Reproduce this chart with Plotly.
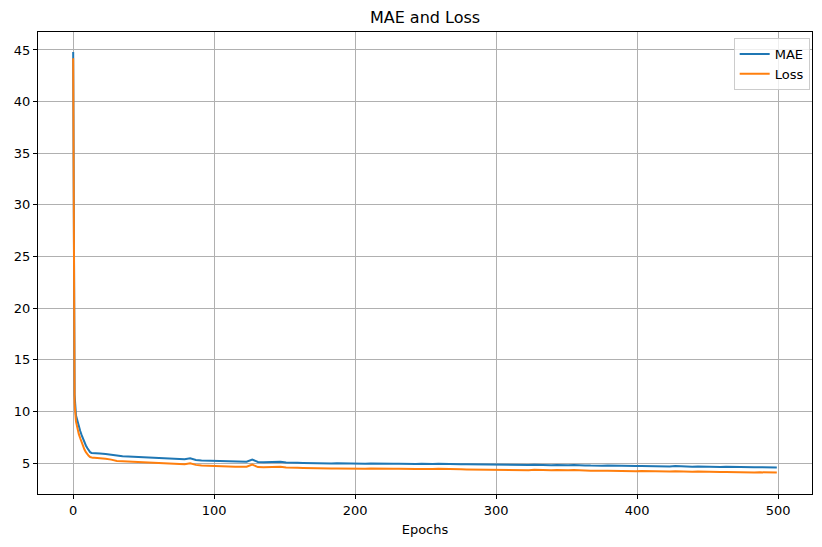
import plotly.graph_objects as go

epochs = [0, 1, 2, 3, 4, 5, 6, 7, 8, 9, 10, 11, 12, 13, 14,
          15, 19, 23, 27, 31, 35, 39, 43, 47, 51,
          55, 59, 63, 67, 71, 75, 79, 83, 87, 91,
          95, 99, 103, 107, 111, 115, 119, 123, 127, 131,
          135, 139, 143, 147, 151, 155, 159, 163, 167, 171,
          175, 179, 183, 187, 191, 195, 199, 203, 207, 211,
          215, 219, 223, 227, 231, 235, 239, 243, 247, 251,
          255, 259, 263, 267, 271, 275, 279, 283, 287, 291,
          295, 299, 303, 307, 311, 315, 319, 323, 327, 331,
          335, 339, 343, 347, 351, 355, 359, 363, 367, 371,
          375, 379, 383, 387, 391, 395, 399, 403, 407, 411,
          415, 419, 423, 427, 431, 435, 439, 443, 447, 451,
          455, 459, 463, 467, 471, 475, 479, 483, 487, 491,
          495, 499]

mae = [44.8, 11.6, 9.6, 9.0, 8.5, 8.1, 7.7, 7.3, 7.0, 6.7, 6.45, 6.25, 6.05, 5.98, 5.96,
       5.95, 5.93, 5.88, 5.80, 5.68, 5.66, 5.63, 5.60, 5.54, 5.55,
       5.50, 5.46, 5.47, 5.42, 5.41, 5.38, 5.37, 5.47, 5.30, 5.24,
       5.22, 5.21, 5.17, 5.18, 5.15, 5.14, 5.12, 5.13, 5.34, 5.10,
       5.08, 5.11, 5.09, 5.13, 5.05, 5.07, 5.02, 5.01, 4.99, 4.98,
       5.01, 4.99, 4.96, 4.97, 4.95, 4.96, 4.94, 4.95, 4.93, 4.96,
       4.94, 4.92, 4.95, 4.93, 4.94, 4.91, 4.93, 4.90, 4.92, 4.90,
       4.91, 4.94, 4.91, 4.89, 4.92, 4.88, 4.87, 4.86, 4.88, 4.85,
       4.84, 4.86, 4.83, 4.82, 4.85, 4.81, 4.82, 4.80, 4.83, 4.79,
       4.80, 4.78, 4.81, 4.77, 4.78, 4.82, 4.76, 4.77, 4.75, 4.78,
       4.74, 4.75, 4.73, 4.76, 4.72, 4.74, 4.71, 4.72, 4.70, 4.73,
       4.68, 4.69, 4.67, 4.70, 4.66, 4.67, 4.65, 4.67, 4.64, 4.63,
       4.65, 4.62, 4.63, 4.61, 4.63, 4.60, 4.61, 4.59, 4.60, 4.58,
       4.59, 4.57]

loss = [44.2, 10.8, 9.0, 8.3, 7.8, 7.4, 7.0, 6.6, 6.3, 6.05, 5.85, 5.7, 5.58, 5.52, 5.5,
        5.50, 5.47, 5.42, 5.33, 5.20, 5.17, 5.14, 5.11, 5.06, 5.07,
        5.02, 4.98, 4.99, 4.94, 4.93, 4.90, 4.88, 4.98, 4.82, 4.76,
        4.73, 4.72, 4.68, 4.69, 4.66, 4.65, 4.63, 4.64, 4.84, 4.61,
        4.59, 4.62, 4.60, 4.64, 4.56, 4.58, 4.53, 4.52, 4.50, 4.49,
        4.52, 4.50, 4.47, 4.48, 4.46, 4.47, 4.45, 4.46, 4.44, 4.47,
        4.45, 4.43, 4.46, 4.44, 4.45, 4.42, 4.44, 4.41, 4.43, 4.41,
        4.42, 4.45, 4.42, 4.40, 4.43, 4.39, 4.38, 4.37, 4.39, 4.36,
        4.35, 4.37, 4.34, 4.33, 4.36, 4.32, 4.33, 4.31, 4.34, 4.30,
        4.31, 4.29, 4.32, 4.28, 4.29, 4.33, 4.27, 4.28, 4.26, 4.29,
        4.25, 4.25, 4.23, 4.26, 4.22, 4.24, 4.21, 4.22, 4.20, 4.23,
        4.18, 4.19, 4.17, 4.20, 4.16, 4.17, 4.15, 4.17, 4.14, 4.13,
        4.15, 4.12, 4.13, 4.11, 4.13, 4.10, 4.11, 4.09, 4.10, 4.08,
        4.09, 4.07]

x_ticks = [0, 100, 200, 300, 400, 500]
y_ticks = [5, 10, 15, 20, 25, 30, 35, 40, 45]

font = "DejaVu Sans"

fig = go.Figure()
fig.add_trace(go.Scatter(x=epochs, y=mae, mode="lines", name="MAE",
                         line=dict(color="#1f77b4", width=2)))
fig.add_trace(go.Scatter(x=epochs, y=loss, mode="lines", name="Loss",
                         line=dict(color="#ff7f0e", width=2)))

axis_common = dict(
    showline=True, linecolor="black", linewidth=1, mirror=True,
    ticks="outside", ticklen=4, tickcolor="black", tickwidth=1,
    showgrid=True, gridcolor="#b0b0b0", gridwidth=1, zeroline=False,
    tickfont=dict(family=font, size=13, color="black"),
    automargin=False,
)

# the page body adds an 8px offset, so the figure is sized to fit the window
W, H = 814, 539

fig.update_layout(
    width=W, height=H,
    paper_bgcolor="white", plot_bgcolor="white",
    margin=dict(l=30, r=10, t=24, b=53),
    title=dict(text="MAE and Loss", x=0.5, xanchor="center", xref="paper",
               yref="container", y=1 - 9 / H, yanchor="middle",
               font=dict(family=font, size=16, color="black")),
    xaxis=dict(range=[-24.95, 523.95], tickvals=x_ticks,
               title=dict(text="Epochs", font=dict(family=font, size=13, color="black"), standoff=8),
               **axis_common),
    yaxis=dict(range=[2.0, 46.74], tickvals=y_ticks, **axis_common),
    legend=dict(x=0.997, y=0.987, xanchor="right", yanchor="top",
                bgcolor="rgba(255,255,255,0.8)", bordercolor="#cccccc", borderwidth=1,
                font=dict(family=font, size=13, color="black")),
    showlegend=True,
)

fig.write_html("out.html")
